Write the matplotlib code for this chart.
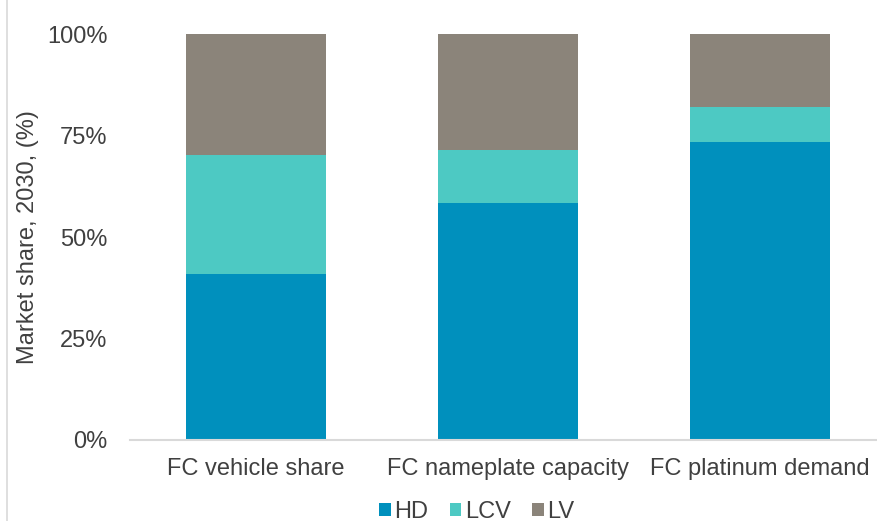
import numpy as np
import matplotlib.pyplot as plt
from matplotlib.lines import Line2D

plt.rcParams['font.family'] = ['Liberation Sans', 'DejaVu Sans']

categories = ['FC vehicle share', 'FC nameplate capacity', 'FC platinum demand']
hd = [41.0, 58.3, 73.5]
lcv = [29.2, 13.1, 8.6]
lv = [29.8, 28.6, 17.9]

colors = {'HD': '#0090BD', 'LCV': '#4DC9C3', 'LV': '#8B847A'}
text_col = '#404040'

fig = plt.figure(figsize=(8.78, 5.21), dpi=100)
ax = fig.add_axes([0.148, 0.1555, 0.852, 0.7786])

x = np.arange(len(categories))
w = 0.558
ax.bar(x, hd, w, color=colors['HD'], label='HD')
ax.bar(x, lcv, w, bottom=hd, color=colors['LCV'], label='LCV')
ax.bar(x, lv, w, bottom=np.array(hd) + np.array(lcv), color=colors['LV'], label='LV')

ax.set_xlim(-0.5, 2.468)
ax.set_ylim(0, 100)
ax.set_yticks([0, 25, 50, 75, 100])
ax.set_yticklabels(['0%', '25%', '50%', '75%', '100%'])
ax.set_xticks(x)
ax.set_xticklabels(categories)
ax.tick_params(axis='both', length=0, labelsize=17, colors=text_col)
ax.tick_params(axis='y', pad=16)
ax.tick_params(axis='x', pad=13)
ax.set_ylabel('Market share, 2030, (%)', fontsize=17, color=text_col)
ax.yaxis.set_label_coords(-0.122, 0.5)

for s in ['top', 'right', 'left']:
    ax.spines[s].set_visible(False)
ax.spines['bottom'].set_color('#D9D9D9')
ax.spines['bottom'].set_linewidth(1.5)

leg = fig.legend(loc='center', bbox_to_anchor=(0.543, 0.018), ncol=3, frameon=False,
                 fontsize=17, handlelength=0.5, handleheight=0.5,
                 handletextpad=0.15, columnspacing=0.9)
for t in leg.get_texts():
    t.set_color(text_col)

fig.add_artist(Line2D([0.008, 0.008], [0, 1], color='#D9D9D9', lw=1.2,
                      transform=fig.transFigure))

fig.savefig('out.png', dpi=100)
